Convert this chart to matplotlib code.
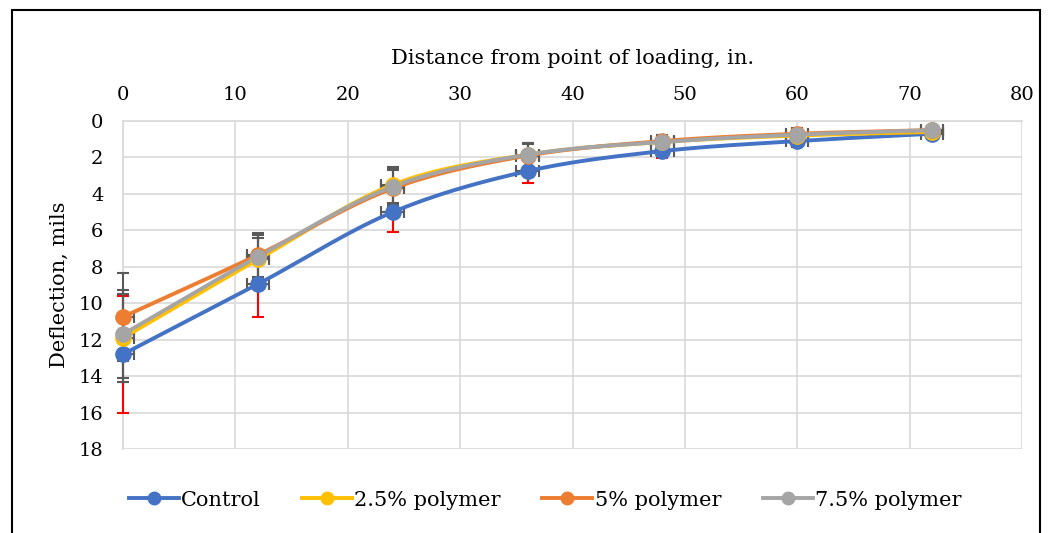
import numpy as np
import matplotlib.pyplot as plt
from matplotlib.patches import Rectangle

plt.rcParams['font.family'] = ['DejaVu Serif']

# distance from point of loading (in.) and deflections (mils)
distance = [0, 12, 24, 36, 48, 60, 72]
series_names = ['Control', '2.5% polymer', '5% polymer', '7.5% polymer']
series_colors = ['#4472C4', '#FFC000', '#ED7D31', '#A5A5A5']
control = [12.8, 8.95, 5.0, 2.75, 1.65, 1.1, 0.7]
poly_25 = [11.9, 7.6, 3.5, 1.85, 1.15, 0.8, 0.6]
poly_5 = [10.75, 7.35, 3.7, 1.9, 1.1, 0.7, 0.5]
poly_75 = [11.7, 7.45, 3.6, 1.85, 1.15, 0.75, 0.5]
# standard deviations used for the error bars
control_err = [3.2, 1.8, 1.1, 0.65, 0.4, 0.3, 0.2]
poly_err = [2.4, 1.2, 1.0, 0.65, 0.35, 0.3, 0.2]
x_err = 1.0


def smooth(x, y, n=30):
    # Catmull-Rom curve through the points, like Excel's smoothed line
    x = np.asarray(x, float)
    y = np.asarray(y, float)
    px = np.concatenate([[2 * x[0] - x[1]], x, [2 * x[-1] - x[-2]]])
    py = np.concatenate([[2 * y[0] - y[1]], y, [2 * y[-1] - y[-2]]])
    xs, ys = [], []
    t = np.linspace(0, 1, n)
    for i in range(1, len(px) - 2):
        for p, out in ((px, xs), (py, ys)):
            p0, p1, p2, p3 = p[i - 1], p[i], p[i + 1], p[i + 2]
            out.extend(0.5 * ((2 * p1) + (-p0 + p2) * t
                              + (2 * p0 - 5 * p1 + 4 * p2 - p3) * t ** 2
                              + (-p0 + 3 * p1 - 3 * p2 + p3) * t ** 3))
    return xs, ys


fig = plt.figure(figsize=(10.52, 5.33), dpi=100)
fig.patches.append(Rectangle((12 / 1052, -0.1), 1028 / 1052, 1.1 - 10 / 533,
                             transform=fig.transFigure, fill=False,
                             edgecolor='black', linewidth=1.5))

ax = fig.add_axes([123 / 1052, 1 - 449 / 533, 899 / 1052, 328 / 533])

all_series = [control, poly_25, poly_5, poly_75]
all_err = [control_err, poly_err, poly_err, poly_err]
for name, color, vals, err in zip(series_names, series_colors, all_series, all_err):
    ecol = 'red' if name == 'Control' else '#595959'
    yb = ax.errorbar(distance, vals, yerr=err, fmt='none', ecolor=ecol,
                     elinewidth=1.5, capsize=4, capthick=1.5, zorder=3)
    for artist in yb.lines[1] + yb.lines[2]:
        artist.set_clip_on(False)
    ax.errorbar(distance, vals, xerr=x_err, fmt='none', ecolor='#595959',
                elinewidth=1.5, capsize=4, capthick=1.5, zorder=3)
for name, color, vals in zip(series_names, series_colors, all_series):
    sx, sy = smooth(distance, vals)
    ax.plot(sx, sy, color=color, linewidth=2.8, zorder=3.5)
    ax.plot(distance, vals, 'o', color=color, markersize=11, zorder=4,
            clip_on=False)
    ax.plot([], [], '-o', color=color, linewidth=2.8, markersize=9, label=name)

ax.set_xlim(0, 80)
ax.set_ylim(18, 0)
ax.set_xticks(range(0, 81, 10))
ax.set_yticks(range(0, 19, 2))
ax.xaxis.tick_top()
ax.xaxis.set_label_position('top')
ax.tick_params(length=0, labelsize=14)
ax.tick_params(axis='x', pad=12)
ax.tick_params(axis='y', pad=14)
ax.set_xlabel('Distance from point of loading, in.', fontsize=15, labelpad=16)
ax.set_ylabel('Deflection, mils', fontsize=15, labelpad=7)
ax.grid(True, color='#D9D9D9', linewidth=1.2)
ax.set_axisbelow(True)
for side in ['bottom', 'right']:
    ax.spines[side].set_visible(False)
for side in ['top', 'left']:
    ax.spines[side].set_color('#D9D9D9')
    ax.spines[side].set_linewidth(1.2)

fig.legend(loc='center', bbox_to_anchor=(545 / 1052, 1 - 500 / 533), ncol=4,
           frameon=False, fontsize=15, handlelength=2.4, columnspacing=2.0,
           handletextpad=0.1)

fig.savefig('out.png', dpi=100)
